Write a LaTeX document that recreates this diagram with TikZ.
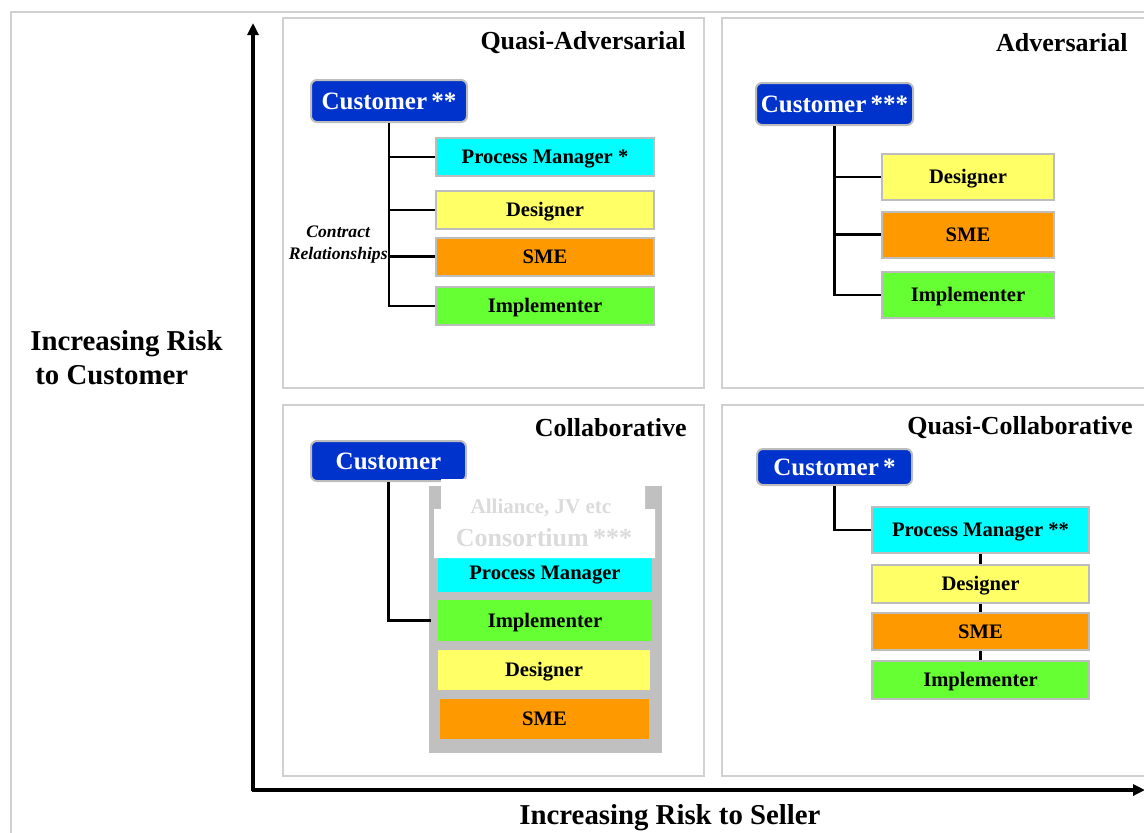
\documentclass[tikz,border=0pt]{standalone}
\usepackage{fontspec}
\setmainfont{Liberation Serif}
\usetikzlibrary{arrows.meta,positioning,calc}

\definecolor{custblue}{HTML}{0033CC}
\definecolor{edgegray}{HTML}{BDBDBD}
\definecolor{framegray}{HTML}{D0D0D0}
\definecolor{pmcyan}{HTML}{00FFFF}
\definecolor{desyellow}{HTML}{FFFF66}
\definecolor{smeorange}{HTML}{FF9900}
\definecolor{impgreen}{HTML}{66FF33}
\definecolor{slabgray}{HTML}{C0C0C0}

\begin{document}
\begin{tikzpicture}[
        x=0.5pt, y=-0.5pt,
        >=Stealth,
        party/.style={draw=edgegray, line width=1pt, rounded corners=3pt, fill=custblue, text=white,
          font=\fontsize{12.5}{14}\selectfont\bfseries, inner sep=0pt, minimum height=21pt,
          text height=0.8em, text depth=0em},
        role/.style={draw=edgegray, line width=1pt, font=\fontsize{10.3}{12}\selectfont\bfseries,
          inner sep=0pt, minimum height=19pt, text height=0.72em, text depth=0.06em},
        slab/.style={role, draw=none},
        quad/.style={draw=framegray, line width=1pt},
        head/.style={anchor=east, font=\fontsize{13}{15}\selectfont\bfseries, inner sep=0pt},
        link/.style={line width=1.2pt},
        axis/.style={line width=1.6pt, -{Triangle[length=6pt,width=5.5pt]}},
        axislabel/.style={font=\fontsize{14.4}{17}\selectfont\bfseries, align=left, inner sep=0pt}
      ]

      \useasboundingbox (0,0) rectangle (1144,832);
      \clip (0,0) rectangle (1144,832);

      % --- outer frame and quadrants ---
      \draw[framegray, line width=0.9pt] (11,850) -- (11,12) -- (1160,12);
      \draw[quad] (283,18) rectangle (704,388);
      \draw[quad] (722,18) rectangle (1160,388);
      \draw[quad] (283,405) rectangle (704,776);
      \draw[quad] (722,405) rectangle (1160,776);

      % --- axes ---
      \coordinate (org) at (253,790);
      \coordinate (ytip) at (253,23);
      \coordinate (xtip) at (1145,790);
      \draw[axis] ($(org)+(0,0.8)$) -- (ytip);
      \draw[axis] ($(org)+(-0.8,0)$) -- (xtip);
      \node[axislabel, anchor=west] (ylab) at (30,358) {Increasing Risk\\\hspace*{2.5pt}to Customer};
      \node[axislabel] (xlab) at (670,818) {Increasing Risk to Seller};

      % --- Quasi-Adversarial ---
      \node[head] (qa-head) at (686,43) {Quasi-Adversarial};
      \node[party, minimum width=78pt] (qa-cust) at (389,101) {Customer\,**};
      \node[role, fill=pmcyan, minimum width=109pt] (qa-pm) at (545,157) {Process Manager *};
      \node[role, fill=desyellow, minimum width=109pt] (qa-des) at (545,210) {Designer};
      \node[role, fill=smeorange, minimum width=109pt] (qa-sme) at (545,256.5) {SME};
      \node[role, fill=impgreen, minimum width=109pt] (qa-imp) at (545,306) {Implementer};
      \draw[link] (qa-cust.south) |- (qa-imp.west);
      \draw[link] (qa-cust.south |- qa-pm.west) -- (qa-pm.west);
      \draw[link] (qa-cust.south |- qa-des.west) -- (qa-des.west);
      \draw[link] (qa-cust.south |- qa-sme.west) -- (qa-sme.west);
      \node[anchor=east, align=center, inner sep=0.5pt, font=\fontsize{8.8}{11}\selectfont\bfseries\itshape]
        (qa-note) at (389,245) {Contract\\Relationships};

      % --- Adversarial ---
      \node[head] (ad-head) at (1128,43) {Adversarial};
      \node[party, minimum width=78.5pt] (ad-cust) at (834.5,104) {Customer\,***};
      \node[role, fill=desyellow, minimum width=86pt, minimum height=23pt] (ad-des) at (968,177) {Designer};
      \node[role, fill=smeorange, minimum width=86pt, minimum height=23pt] (ad-sme) at (968,234.5) {SME};
      \node[role, fill=impgreen, minimum width=86pt, minimum height=23pt] (ad-imp) at (968,295) {Implementer};
      \draw[link] (ad-cust.south) |- (ad-imp.west);
      \draw[link] (ad-cust.south |- ad-des.west) -- (ad-des.west);
      \draw[link] (ad-cust.south |- ad-sme.west) -- (ad-sme.west);

      % --- Collaborative ---
      \node[head] (co-head) at (687,428) {Collaborative};
      \node[party, minimum width=77.5pt, minimum height=20pt] (co-cust) at (388.5,461) {Customer};
      \node[fill=slabgray, inner sep=0pt, minimum width=116.5pt, minimum height=133.5pt] (co-group) at (545.5,619.5) {};
      \node[slab, fill=pmcyan, minimum width=107pt] (co-pm) at (545,573) {Process Manager};
      \node[slab, fill=impgreen, minimum width=107pt, minimum height=20.5pt] (co-imp) at (545,620.5) {Implementer};
      \node[slab, fill=desyellow, minimum width=106pt, minimum height=20pt] (co-des) at (544,670) {Designer};
      \node[slab, fill=smeorange, minimum width=104.5pt, minimum height=20pt] (co-sme) at (544.5,719) {SME};
      % faded consortium label
      \fill[white] (441,479) rectangle (645,510) (434,509) rectangle (655,558);
      \node[font=\fontsize{10.5}{12}\selectfont\bfseries, text=gray!28, inner sep=0pt] (co-ghost1) at (541,508) {Alliance, JV etc};
      \node[font=\fontsize{13}{15}\selectfont\bfseries, text=gray!28, inner sep=0pt] (co-ghost2) at (544,538) {Consortium\,***};
      \draw[link] (co-cust.south) |- ($(co-group.west |- co-imp.west)+(2,0)$);

      % --- Quasi-Collaborative ---
      \node[head] (qc-head) at (1133,428) {Quasi-Collaborative};
      \node[party, minimum width=77.5pt, minimum height=18pt] (qc-cust) at (834.5,467) {Customer\,*};
      \node[role, fill=pmcyan, minimum width=108.5pt, minimum height=23pt] (qc-pm) at (980.5,530) {Process Manager **};
      \node[role, fill=desyellow, minimum width=108.5pt] (qc-des) at (980.5,584) {Designer};
      \node[role, fill=smeorange, minimum width=108.5pt, minimum height=18.5pt] (qc-sme) at (980.5,631.5) {SME};
      \node[role, fill=impgreen, minimum width=108.5pt] (qc-imp) at (980.5,680) {Implementer};
      \draw[link] (qc-cust.south) |- (qc-pm.west);
      \draw[link] (qc-pm.south) -- (qc-des.north);
      \draw[link] (qc-des.south) -- (qc-sme.north);
      \draw[link] (qc-sme.south) -- (qc-imp.north);

    \end{tikzpicture}
\end{document}
